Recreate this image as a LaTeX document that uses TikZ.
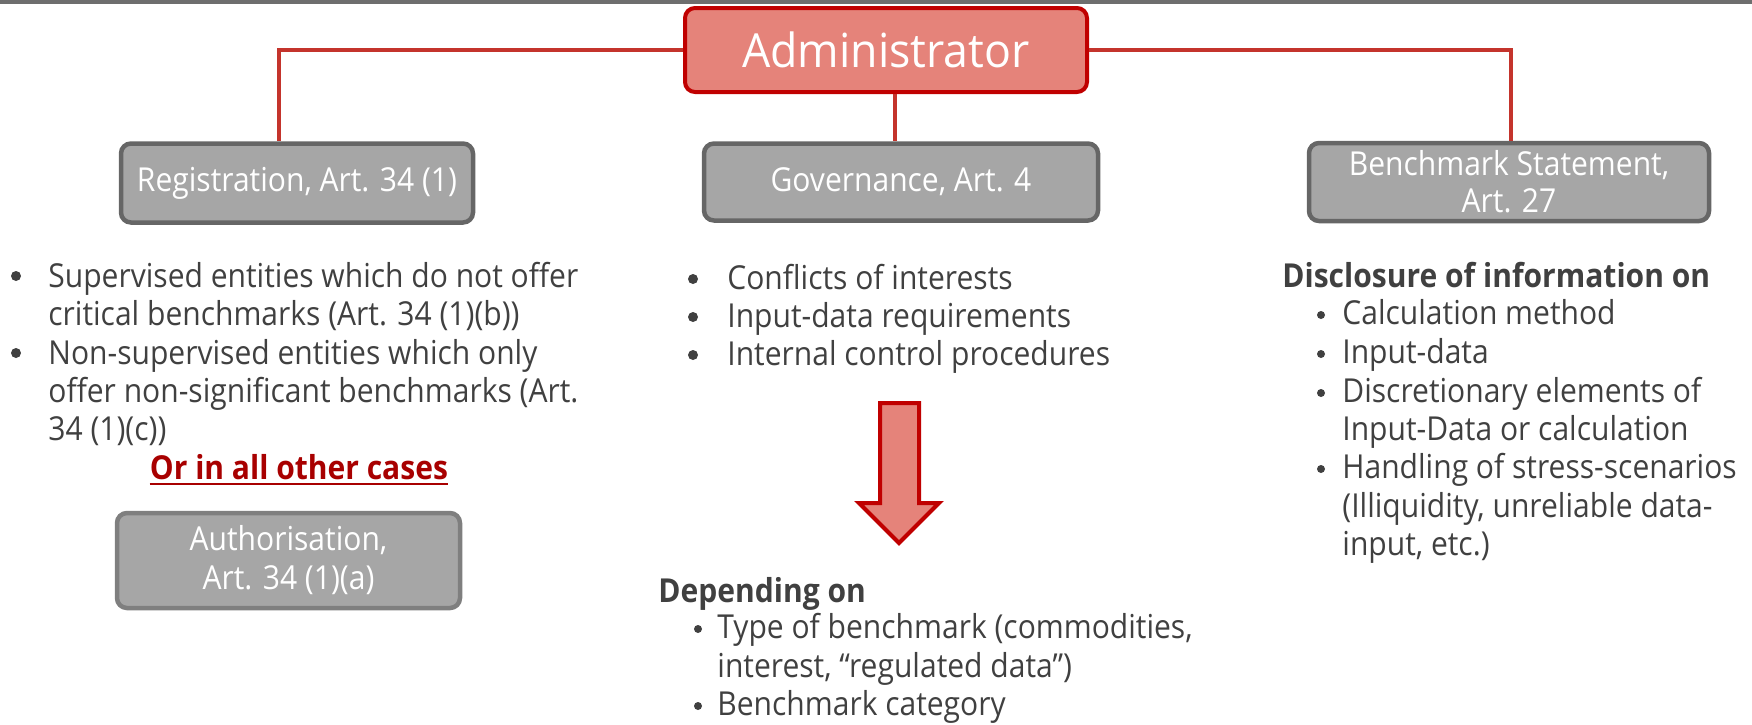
\documentclass[tikz,border=0pt]{standalone}
\usepackage{fontspec}
\setmainfont{Open Sans}[FakeStretch=0.91]
\newfontfamily\adminfont{Open Sans}[FakeStretch=0.95]
\definecolor{txtgray}{RGB}{64,64,64}
\definecolor{connred}{RGB}{196,52,44}
\definecolor{adminfill}{RGB}{229,131,122}
\definecolor{adminedge}{RGB}{192,0,0}
\definecolor{boxgray}{RGB}{166,166,166}
\definecolor{boxedge}{RGB}{102,102,102}
\definecolor{authedge}{RGB}{127,127,127}
\definecolor{redtext}{RGB}{168,0,0}
\definecolor{bandgray}{RGB}{110,110,110}
\tikzset{
  bodyfont/.style={font=\fontsize{16.5}{20}\selectfont},
  txt/.style={bodyfont, anchor=base west, inner sep=0pt, text=txtgray},
  bigdot/.style={circle, fill=txtgray, inner sep=0pt, minimum size=5pt},
  smalldot/.style={circle, fill=txtgray, inner sep=0pt, minimum size=4pt},
  head/.style={txt, font=\fontsize{16.5}{20}\selectfont\bfseries},
  greybox/.style={draw=boxedge, fill=boxgray, line width=2.25pt, rounded corners=5pt,
    text=white, bodyfont, align=center, inner sep=0pt},
  adminbox/.style={draw=adminedge, fill=adminfill, line width=2pt, rounded corners=5pt,
    text=white, font=\adminfont\fontsize{23.5}{28}\selectfont, inner sep=0pt,
    minimum width=201pt, minimum height=42pt},
  conn/.style={draw=connred, line width=2pt},
  bigarrow/.style={draw=adminedge, fill=adminfill, line width=2pt},
}
\begin{document}
\begin{tikzpicture}[x=0.5pt,y=-0.5pt]
\useasboundingbox (0,0) rectangle (1752,724);
\fill[bandgray] (0,0) rectangle (1752,4);

% top box
\node[adminbox] (admin) at (886,50) {Administrator};

% second-level boxes
\node[greybox, minimum width=176pt, minimum height=39.5pt] (reg) at (297,183) {Registration, Art. 34 (1)};
\node[greybox, minimum width=197pt, minimum height=38.5pt] (gov) at (901,182) {Governance, Art. 4};
\node[greybox, minimum width=200pt, minimum height=39pt,
      font=\fontsize{16.5}{18.5}\selectfont] (bs) at (1509,182) {Benchmark Statement,\\Art. 27};

% connectors
\coordinate (lx) at (279,0);
\coordinate (rx) at (1511,0);
\coordinate (mx) at (895,0);
\draw[conn] (admin.west) -| (reg.north -| lx);
\draw[conn] (admin.east) -| (bs.north -| rx);
\draw[conn] (admin.south -| mx) -- (gov.north -| mx);

% left column
\node[bigdot] (lb1) at (16,276) {};
\node[txt] (l1) at (48,287) {Supervised entities which do not offer};
\node[txt] (l2) at (48,325) {critical benchmarks (Art. 34 (1)(b))};
\node[bigdot] (lb2) at (16,353) {};
\node[txt] (l3) at (48,364) {Non-supervised entities which only};
\node[txt] (l4) at (48,402) {offer non-significant benchmarks (Art.};
\node[txt] (l5) at (48,440) {34 (1)(c))};
\node[anchor=base, inner sep=0pt, text=redtext, font=\fontsize{16.5}{20}\selectfont\bfseries] (or) at (299,479) {Or in all other cases};
\draw[redtext, line width=1pt] ([yshift=-2.5pt]or.base west) -- ([yshift=-2.5pt]or.base east);
\node[greybox, draw=authedge, minimum width=171.5pt, minimum height=47.5pt,
      font=\fontsize{16.5}{19.5}\selectfont] (auth) at (288.5,560.5) {Authorisation,\\Art. 34 (1)(a)};

% middle column
\node[bigdot] (mb1) at (693,279) {};
\node[txt] (m1) at (727,289) {Conflicts of interests};
\node[bigdot] (mb2) at (693,317) {};
\node[txt] (m2) at (727,327) {Input-data requirements};
\node[bigdot] (mb3) at (693,355) {};
\node[txt] (m3) at (727,365) {Internal control procedures};

\draw[bigarrow] (880,403) -- (919,403) -- (919,503) -- (939,503) -- (899,543)
  -- (859,503) -- (880,503) -- cycle;

\node[head] (dep) at (658,602) {Depending on};
\node[smalldot] (db1) at (698,629) {};
\node[txt] (d1) at (717,638) {Type of benchmark (commodities,};
\node[txt] (d2) at (717,677) {interest, “regulated data”)};
\node[smalldot] (db2) at (698,706) {};
\node[txt] (d3) at (717,715) {Benchmark category};

% right column
\node[head] (dis) at (1282,287) {Disclosure of information on};
\node[smalldot] (rb1) at (1321,315) {};
\node[txt] (r1) at (1342,324) {Calculation method};
\node[smalldot] (rb2) at (1321,354) {};
\node[txt] (r2) at (1342,363) {Input-data};
\node[smalldot] (rb3) at (1321,393) {};
\node[txt] (r3) at (1342,402) {Discretionary elements of};
\node[txt] (r4) at (1342,440) {Input-Data or calculation};
\node[smalldot] (rb4) at (1321,469) {};
\node[txt] (r5) at (1342,478) {Handling of stress-scenarios};
\node[txt] (r6) at (1342,517) {(Illiquidity, unreliable data-};
\node[txt] (r7) at (1342,555) {input, etc.)};
\end{tikzpicture}
\end{document}
